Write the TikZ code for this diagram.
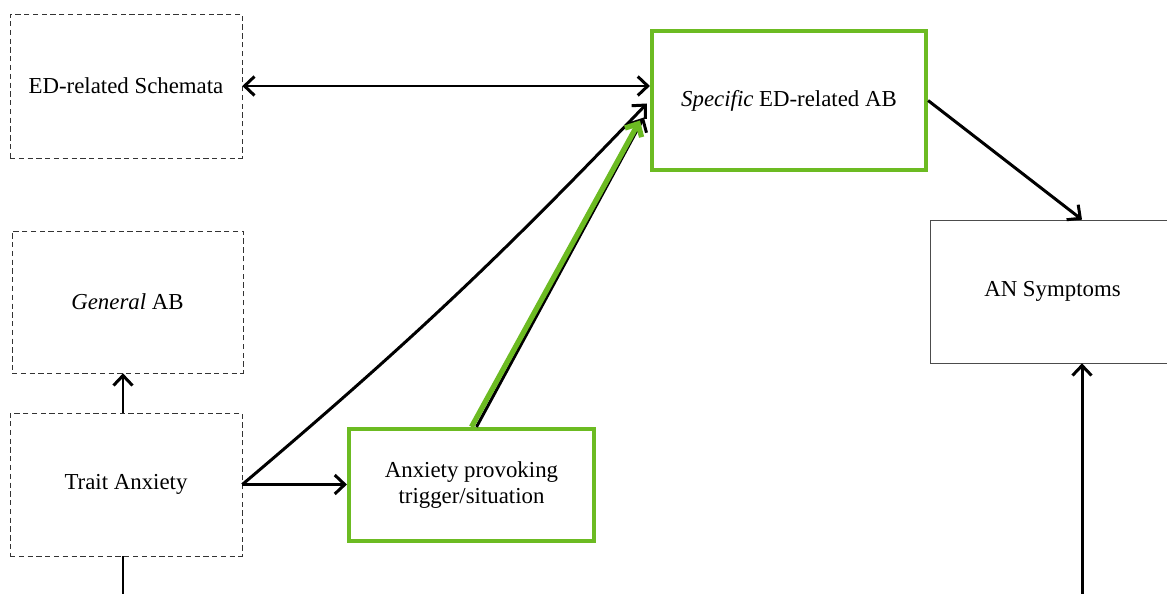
\documentclass[tikz,border=0pt]{standalone}
\usepackage{fontspec}
\setmainfont{Liberation Serif}
\usetikzlibrary{arrows.meta, positioning}
\definecolor{leafgreen}{RGB}{108,187,34}
\tikzset{
    dashbox/.style={draw=black!80, densely dashed, thin, fill=white, align=center, font=\fontsize{13}{15}\selectfont},
    plainbox/.style={draw=black!70, thin, fill=white, align=center, font=\fontsize{13}{15}\selectfont},
    greenbox/.style={draw=leafgreen, line width=2.4pt, fill=white, align=center, font=\fontsize{13}{15}\selectfont},
    arrow/.style={-{Straight Barb[length=2mm, width=3.8mm]}, line width=1.7pt, black},
    greenarrow/.style={-{Straight Barb[length=2mm, width=3.8mm]}, line width=3pt, leafgreen}
}
\begin{document}
\begin{tikzpicture}[x=0.02cm, y=-0.02cm]
    \useasboundingbox (0,0) rectangle (1167,594);
    \node [dashbox, minimum width=4.64cm, minimum height=2.88cm] (schemata) at (126,86) {ED-related Schemata};
    \node [dashbox, minimum width=4.62cm, minimum height=2.84cm] (general) at (127.5,302) {\textit{General} AB};
    \node [dashbox, minimum width=4.64cm, minimum height=2.86cm] (trait) at (126,484.5) {Trait Anxiety};
    \node [greenbox, minimum width=4.9cm, minimum height=2.24cm] (trigger) at (471.5,485) {Anxiety provoking\\trigger/situation};
    \node [greenbox, minimum width=5.48cm, minimum height=2.78cm] (specific) at (789,100.5) {\textit{Specific} ED-related AB};
    \node [plainbox, minimum width=4.9cm, minimum height=2.86cm] (symptoms) at (1052.5,291.5) {AN Symptoms};
    % loose ends leaving the page
    \coordinate (traitdown) at (123,600);
    \coordinate (symptomsup) at (1082,600);
    \draw [arrow, {Straight Barb[length=2mm, width=3.8mm]}-{Straight Barb[length=2mm, width=3.8mm]}] (schemata.east) -- (specific.west |- schemata.east);
    \draw [arrow] (trait.north -| 123,0) -- (general.south -| 123,0);
    \draw [arrow] (trait.east) -- (trigger.west |- trait.east);
    \draw [arrow] (trait.east) to[bend right=3] ([xshift=-0.06cm, yshift=-0.06cm]specific.west);
    \draw [arrow] ([xshift=0.1cm]trigger.north) -- ([xshift=-0.12cm, yshift=-0.34cm]specific.west);
    \draw [greenarrow] (trigger.north) -- ([xshift=-0.2cm, yshift=-0.4cm]specific.west);
    \draw [arrow] (specific.east) -- (symptoms.north -| 1082,0);
    \draw [line width=1.7pt] (trait.south -| 123,0) -- (traitdown);
    \draw [arrow] (symptomsup) -- (symptoms.south -| 1082,0);
\end{tikzpicture}
\end{document}
